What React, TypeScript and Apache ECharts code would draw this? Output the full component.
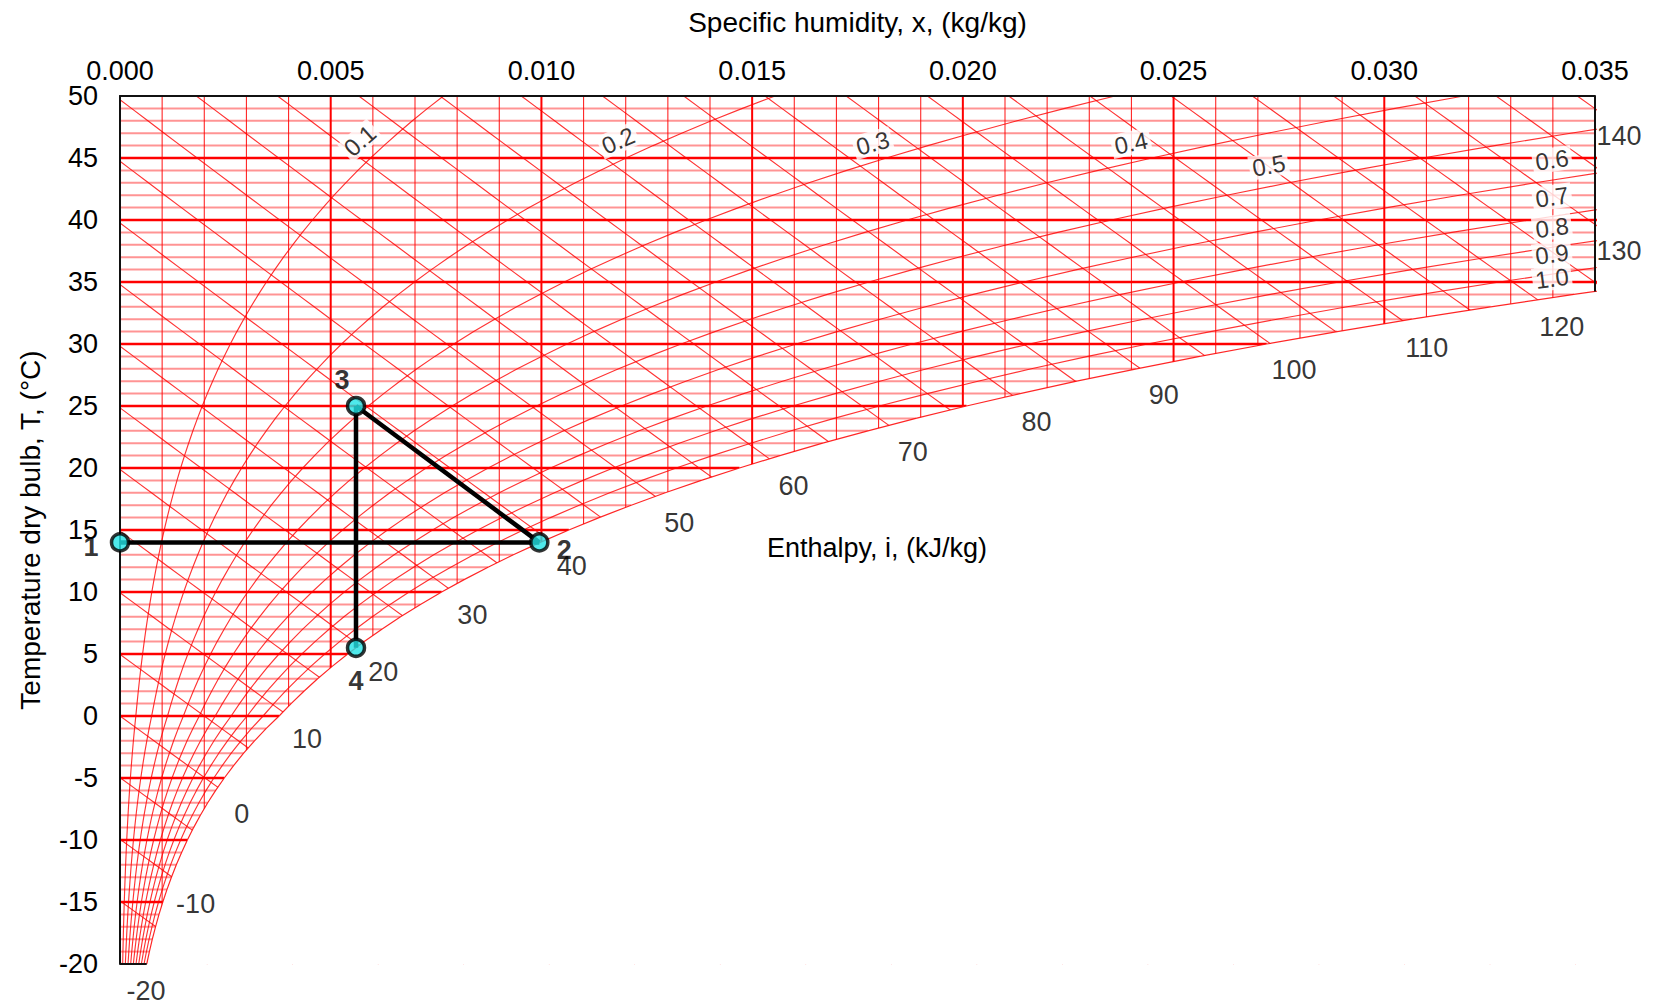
import React, { useEffect, useRef } from "react";
import * as echarts from "echarts";

// ---------------- data ----------------
const P_ATM = 101.325; // kPa
const T_MIN = -20;
const T_MAX = 50;
const X_MIN = 0;
const X_MAX = 0.035;

// dry-bulb temperature nodes (°C) and saturation vapour pressure (kPa, over ice below 0 °C)
const satT = [
  -20, -19, -18, -17, -16, -15, -14, -13, -12, -11, -10, -9, -8, -7, -6, -5, -4, -3, -2, -1,
  0, 1, 2, 3, 4, 5, 6, 7, 8, 9, 10, 11, 12, 13, 14, 15, 16, 17, 18, 19, 20, 21, 22, 23, 24,
  25, 26, 27, 28, 29, 30, 31, 32, 33, 34, 35, 36, 37, 38, 39, 40, 41, 42, 43, 44, 45, 46, 47,
  48, 49, 50,
];
const satP = [
  0.1032, 0.1135, 0.1248, 0.1371, 0.1505, 0.1652, 0.1811, 0.1984, 0.2172, 0.2376, 0.2597,
  0.2837, 0.3097, 0.3379, 0.3685, 0.4015, 0.4372, 0.4757, 0.5173, 0.5623, 0.6112, 0.6571,
  0.706, 0.7581, 0.8135, 0.8726, 0.9354, 1.0021, 1.073, 1.1482, 1.2282, 1.3129, 1.4028,
  1.4981, 1.5989, 1.7057, 1.8188, 1.9383, 2.0647, 2.1982, 2.3392, 2.4881, 2.6452, 2.8109,
  2.9856, 3.1697, 3.3637, 3.5679, 3.7828, 4.0089, 4.2467, 4.4966, 4.7592, 5.0351, 5.3247,
  5.6286, 5.9475, 6.2818, 6.6324, 6.9997, 7.3844, 7.7873, 8.209, 8.6503, 9.1118, 9.5944,
  10.0988, 10.6259, 11.1764, 11.7512, 12.3513,
];

// relative humidity curves
const rhLevels = [0.1, 0.2, 0.3, 0.4, 0.5, 0.6, 0.7, 0.8, 0.9];
const rhLabelNames = ["0.1", "0.2", "0.3", "0.4", "0.5", "0.6", "0.7", "0.8", "0.9", "1.0"];
const rhLabelValues = [0.1, 0.2, 0.3, 0.4, 0.5, 0.6, 0.7, 0.8, 0.9, 1.0];
// where each RH label sits, [x kg/kg, T °C]
const rhLabelAnchors = [
  [0.00569, 46.4],
  [0.01182, 46.4],
  [0.01786, 46.2],
  [0.02399, 46.2],
  [0.02726, 44.4],
  [0.03398, 44.85],
  [0.03398, 41.85],
  [0.03398, 39.4],
  [0.03398, 37.25],
  [0.03398, 35.3],
];

// specific humidity grid (kg/kg)
const humidityGrid = [
  0.001, 0.002, 0.003, 0.004, 0.005, 0.006, 0.007, 0.008, 0.009, 0.01, 0.011, 0.012, 0.013,
  0.014, 0.015, 0.016, 0.017, 0.018, 0.019, 0.02, 0.021, 0.022, 0.023, 0.024, 0.025, 0.026,
  0.027, 0.028, 0.029, 0.03, 0.031, 0.032, 0.033, 0.034,
];

// enthalpy lines (kJ/kg) and labelled ones
const enthalpyLevels = [
  -20, -15, -10, -5, 0, 5, 10, 15, 20, 25, 30, 35, 40, 45, 50, 55, 60, 65, 70, 75, 80, 85, 90,
  95, 100, 105, 110, 115, 120, 125, 130, 135, 140,
];
const enthalpyLabelLevels = [
  -20, -10, 0, 10, 20, 30, 40, 50, 60, 70, 80, 90, 100, 110, 120, 130, 140,
];

// process state points
const stateNames = ["1", "2", "3", "4"];
const stateX = [0, 0.00995, 0.0056, 0.0056];
const stateT = [14, 14, 25, 5.5];
// process lines as pairs of state indices
const processLinks = [
  [0, 1],
  [2, 1],
  [2, 3],
];

// ---------------- helpers ----------------
const FONT = "'Liberation Sans', Arial, Helvetica, sans-serif";
const GRID = { left: 120, top: 96, width: 1475, height: 868 };
const XPX = GRID.width / (X_MAX - X_MIN);
const YPX = GRID.height / (T_MAX - T_MIN);

const humidity = (phi: number, k: number) => {
  const pv = phi * satP[k];
  return (0.622 * pv) / (P_ATM - pv);
};
const xsat = satP.map((_, k) => humidity(1, k));
const enthalpy = (T: number, x: number) => 1.006 * T + x * (2501 + 1.86 * T);
const xOnEnthalpy = (i: number, T: number) => (i - 1.006 * T) / (2501 + 1.86 * T);
const hsat = satT.map((T, k) => enthalpy(T, xsat[k]));

function enthalpyEnd(i: number): number[] {
  if (i < hsat[0]) return [xOnEnthalpy(i, T_MIN), T_MIN];
  for (let k = 0; k < satT.length - 1; k++) {
    if (i >= hsat[k] && i <= hsat[k + 1]) {
      const T = satT[k] + (i - hsat[k]) / (hsat[k + 1] - hsat[k]);
      const x = xOnEnthalpy(i, T);
      if (x <= X_MAX) return [x, T];
      break;
    }
  }
  const T = (i - 2501 * X_MAX) / (1.006 + 1.86 * X_MAX);
  return [X_MAX, T];
}

function tSatAt(x: number): number {
  for (let k = 0; k < satT.length - 1; k++) {
    if (x >= xsat[k] && x <= xsat[k + 1]) {
      return satT[k] + (x - xsat[k]) / (xsat[k + 1] - xsat[k]);
    }
  }
  return T_MAX;
}

function rhAngle(phi: number, T: number): number {
  let k = Math.floor(T - T_MIN);
  k = Math.max(0, Math.min(satT.length - 2, k));
  const dx = (humidity(phi, k + 1) - humidity(phi, k)) * XPX;
  return (Math.atan2(YPX, dx) * 180) / Math.PI;
}

// ---------------- option ----------------
function buildOption(): any {
  const series: any[] = [];
  const lineBase = {
    type: "line",
    symbol: "none",
    silent: true,
    animation: false,
    clip: true,
  };

  // horizontal temperature lines
  satT.forEach((T, k) => {
    if (T === T_MIN || T === T_MAX) return;
    const bold = T % 5 === 0;
    series.push({
      ...lineBase,
      z: bold ? 2 : 1,
      data: [
        [0, T],
        [xsat[k], T],
      ],
      lineStyle: bold
        ? { color: "#ff0000", width: 2.4 }
        : { color: "rgba(255,0,0,0.42)", width: 2 },
    });
  });

  // vertical humidity lines (lower part hidden by the saturation mask)
  humidityGrid.forEach((x) => {
    const bold = Math.round(x * 1000) % 5 === 0;
    series.push({
      ...lineBase,
      z: bold ? 2 : 1,
      data: [
        [x, T_MIN],
        [x, T_MAX],
      ],
      lineStyle: bold
        ? { color: "#ff0000", width: 2 }
        : { color: "rgba(255,0,0,0.85)", width: 1.1 },
    });
  });

  // enthalpy lines
  enthalpyLevels.forEach((i) => {
    series.push({
      ...lineBase,
      z: 1,
      data: satT.map((T) => [xOnEnthalpy(i, T), T]),
      lineStyle: { color: "rgba(255,0,0,0.8)", width: 1.15 },
    });
  });

  // relative humidity curves
  rhLevels.forEach((phi) => {
    series.push({
      ...lineBase,
      z: 1,
      data: satT.map((T, k) => [humidity(phi, k), T]),
      lineStyle: { color: "rgba(255,0,0,0.8)", width: 1.15 },
    });
  });

  // saturation curve with white mask underneath it
  series.push({
    ...lineBase,
    z: 3,
    data: satT.map((T, k) => [xsat[k], T]),
    lineStyle: { color: "rgba(255,0,0,0.85)", width: 1.2 },
    areaStyle: { color: "#ffffff", opacity: 1, origin: "start" },
  });

  // black borders (right edge above saturation, bottom edge left of saturation)
  const tEdge = tSatAt(X_MAX);
  series.push({
    ...lineBase,
    z: 10,
    clip: false,
    data: [
      [X_MAX, T_MAX],
      [X_MAX, tEdge],
    ],
    lineStyle: { color: "#111", width: 2 },
  });
  series.push({
    ...lineBase,
    z: 10,
    clip: false,
    data: [
      [0, T_MIN],
      [xsat[0], T_MIN],
    ],
    lineStyle: { color: "#111", width: 2 },
  });

  // RH labels
  series.push({
    type: "scatter",
    z: 6,
    silent: true,
    clip: false,
    symbolSize: 0.1,
    itemStyle: { color: "transparent" },
    data: rhLabelAnchors.map((a, j) => ({
      value: a,
      label: {
        show: true,
        position: "inside",
        formatter: rhLabelNames[j],
        rotate: rhAngle(rhLabelValues[j], a[1]),
        fontSize: 24,
        fontFamily: FONT,
        color: "#000",
        backgroundColor: "#ffffff",
        padding: [0, 3, 0, 3],
      },
    })),
  });

  // enthalpy labels
  series.push({
    type: "scatter",
    z: 6,
    silent: true,
    clip: false,
    symbolSize: 0.1,
    itemStyle: { color: "transparent" },
    data: enthalpyLabelLevels.map((i) => ({
      value: enthalpyEnd(i),
      label: {
        show: true,
        position: "inside",
        offset: [24, 27],
        formatter: String(i),
        fontSize: 27,
        fontFamily: FONT,
        color: "#000",
      },
    })),
  });

  // process lines
  processLinks.forEach(([a, b]) => {
    series.push({
      ...lineBase,
      z: 11,
      clip: false,
      data: [
        [stateX[a], stateT[a]],
        [stateX[b], stateT[b]],
      ],
      lineStyle: { color: "#000", width: 4.5 },
    });
  });

  // state points
  const labelOffsets = [
    [-29, 5],
    [25, 8],
    [-14, -26],
    [0, 33],
  ];
  series.push({
    type: "scatter",
    z: 12,
    silent: true,
    clip: false,
    symbol: "circle",
    symbolSize: 17,
    itemStyle: { color: "#22e3e6", borderColor: "#000", borderWidth: 3.5 },
    data: stateNames.map((n, j) => ({
      value: [stateX[j], stateT[j]],
      label: {
        show: true,
        position: "inside",
        offset: labelOffsets[j],
        formatter: n,
        fontSize: 27,
        fontWeight: "bold",
        fontFamily: FONT,
        color: "#000",
      },
    })),
  });

  return {
    animation: false,
    backgroundColor: "#ffffff",
    grid: { ...GRID, containLabel: false },
    xAxis: {
      type: "value",
      position: "top",
      min: X_MIN,
      max: X_MAX,
      interval: 0.005,
      z: 9,
      name: "Specific humidity, x, (kg/kg)",
      nameLocation: "middle",
      nameGap: 60,
      nameTextStyle: { fontSize: 28, fontFamily: FONT, color: "#000" },
      axisLine: { show: true, onZero: false, lineStyle: { color: "#111", width: 2 } },
      axisTick: { show: false },
      splitLine: { show: false },
      axisLabel: {
        fontSize: 27,
        fontFamily: FONT,
        color: "#000",
        margin: 12,
        formatter: (v: number) => v.toFixed(3),
      },
    },
    yAxis: {
      type: "value",
      min: T_MIN,
      max: T_MAX,
      interval: 5,
      z: 9,
      name: "Temperature dry bulb, T, (°C)",
      nameLocation: "middle",
      nameGap: 76,
      nameRotate: 90,
      nameTextStyle: { fontSize: 28, fontFamily: FONT, color: "#000" },
      axisLine: { show: true, onZero: false, lineStyle: { color: "#111", width: 2 } },
      axisTick: { show: false },
      splitLine: { show: false },
      axisLabel: {
        fontSize: 27,
        fontFamily: FONT,
        color: "#000",
        margin: 22,
        padding: [5, 0, 0, 0],
      },
    },
    graphic: [
      {
        type: "text",
        x: 877,
        y: 548,
        z: 20,
        style: {
          text: "Enthalpy, i, (kJ/kg)",
          font: `27px ${FONT}`,
          fill: "#000",
          align: "center",
          verticalAlign: "middle",
        },
      },
    ],
    series,
  };
}

export default function App() {
  const ref = useRef<HTMLDivElement>(null);
  useEffect(() => {
    if (!ref.current) return;
    const chart = echarts.init(ref.current, null, { renderer: "svg" });
    chart.setOption(buildOption());
    return () => chart.dispose();
  }, []);
  return (
    <div
      ref={ref}
      style={{
        position: "fixed",
        left: 0,
        top: 0,
        width: 1662,
        height: 1008,
        background: "#ffffff",
      }}
    />
  );
}
